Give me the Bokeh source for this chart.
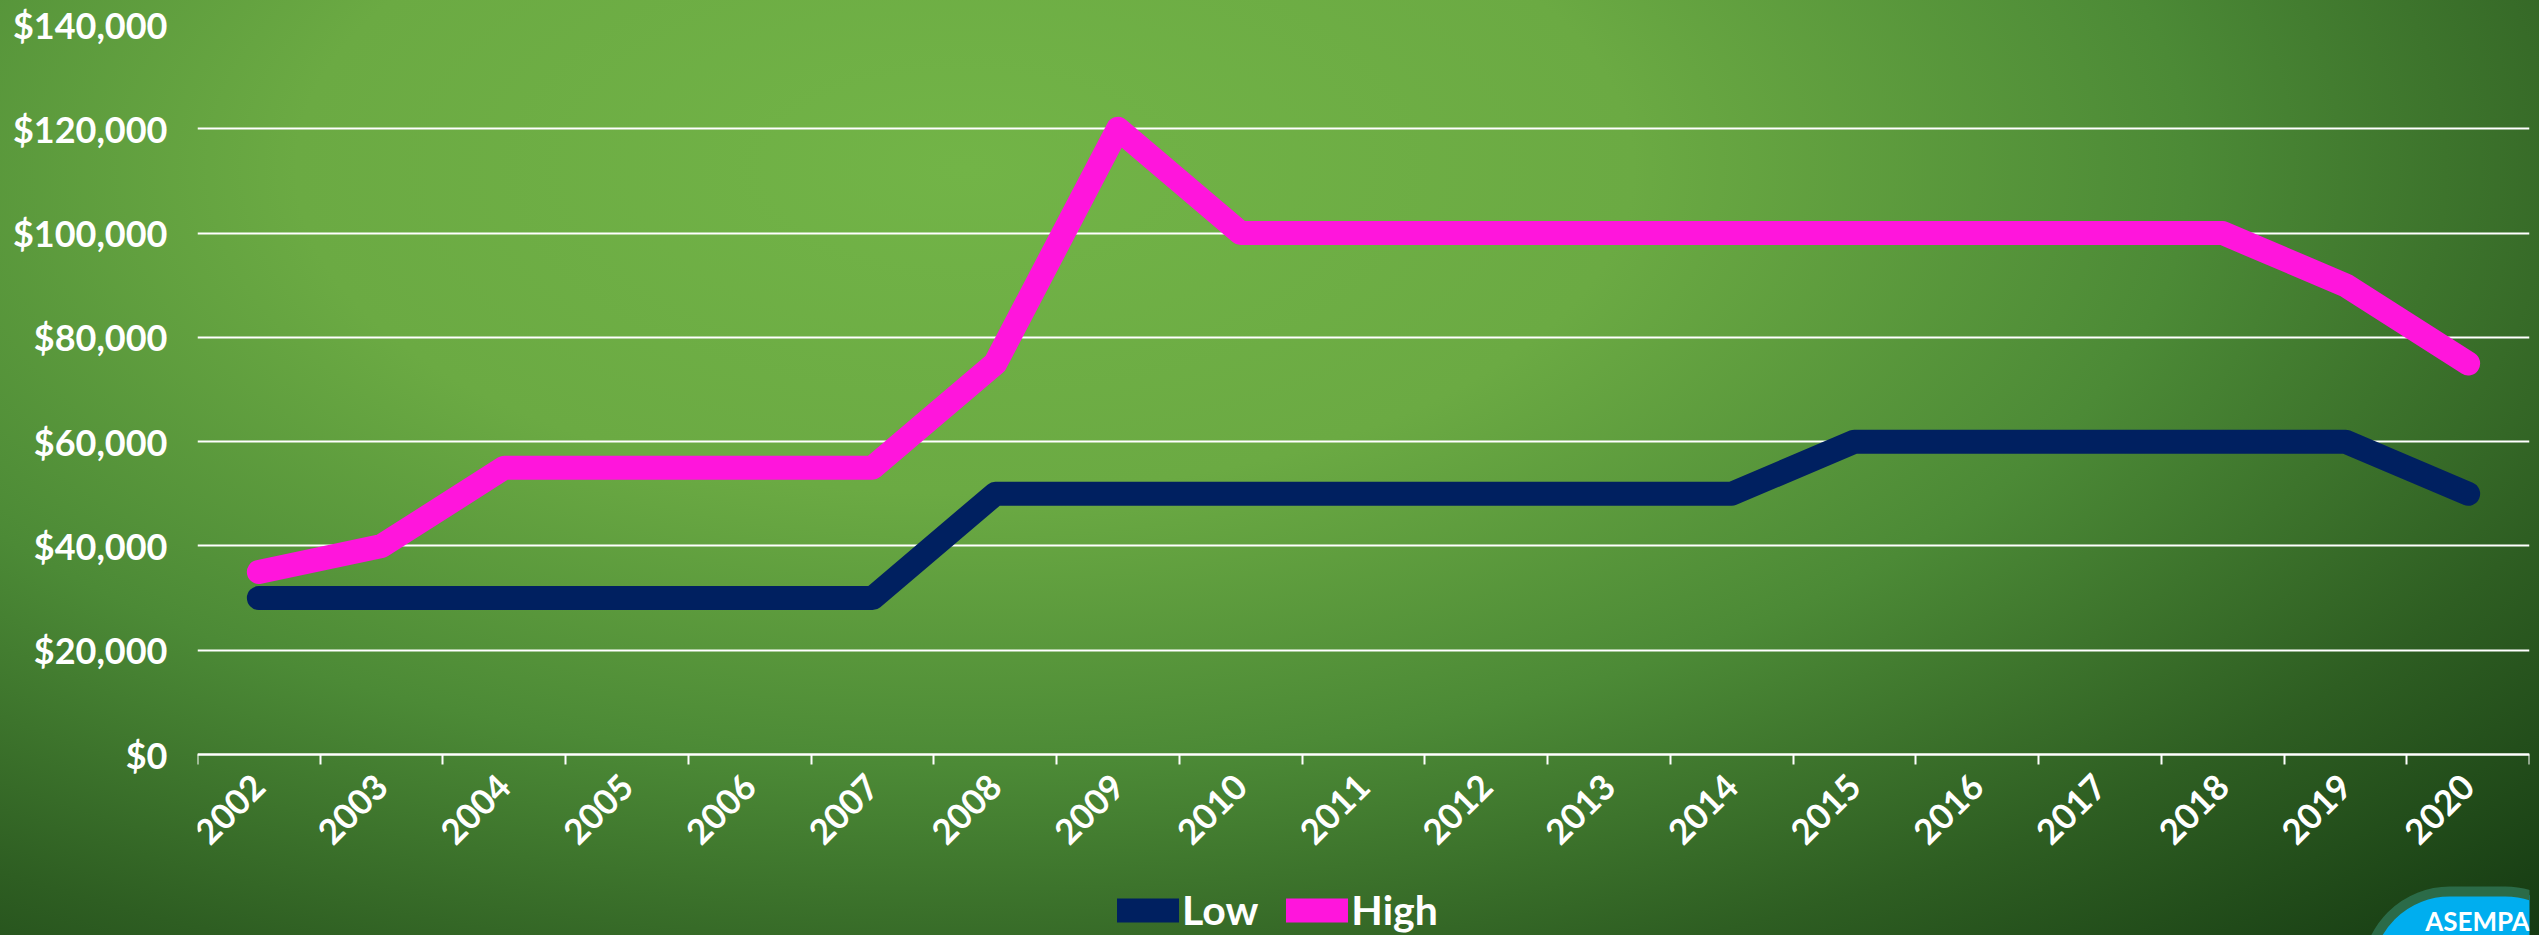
from bokeh.plotting import figure
from bokeh.models import (FixedTicker, NumeralTickFormatter, Legend, LegendItem,
                          Range1d, Label)
from bokeh.embed import file_html
from bokeh.resources import INLINE
from math import pi

years = [2002, 2003, 2004, 2005, 2006, 2007, 2008, 2009, 2010, 2011,
         2012, 2013, 2014, 2015, 2016, 2017, 2018, 2019, 2020]
low = [30000, 30000, 30000, 30000, 30000, 30000, 50000, 50000, 50000, 50000,
       50000, 50000, 50000, 60000, 60000, 60000, 60000, 60000, 50000]
high = [35000, 40000, 55000, 55000, 55000, 55000, 75000, 120000, 100000, 100000,
        100000, 100000, 100000, 100000, 100000, 100000, 100000, 90000, 75000]
y_ticks = [0, 20000, 40000, 60000, 80000, 100000, 120000, 140000]
series_names = ["Low", "High"]
logo_text = "ASEMPA"

FONT = "Lato"
W, H = 2539, 935
TOP, ZERO_Y = 24, 754          # pixel rows of the top gridline and of $0
# extend the frame down to the bottom of the canvas so that the legend and
# the badge (drawn as annotations) stay inside the frame
y_min = -(H - ZERO_Y) * (y_ticks[-1] - y_ticks[0]) / (ZERO_Y - TOP)

p = figure(width=W, height=H, output_backend="svg", toolbar_location=None,
           x_range=Range1d(years[0] - 0.5, years[-1] + 0.5),
           y_range=Range1d(y_min, y_ticks[-1]),
           min_border_left=197, min_border_right=10, min_border_top=TOP,
           min_border_bottom=0)

p.styles = {"background": "radial-gradient(ellipse farthest-corner at 38% 18%, "
            "#72B447 0%, #6BAA43 30%, #4C8A36 55%, #2E5E22 78%, #153A12 100%)"}
p.background_fill_color = None
p.border_fill_color = None
p.outline_line_color = None

# lines
r_low = p.line(years, low, line_color="#002060", line_width=24,
               line_cap="round", line_join="round")
r_high = p.line(years, high, line_color="#FF15DC", line_width=24,
                line_cap="round", line_join="round")

# x axis, pinned at $0
xa = p.xaxis[0]
xa.fixed_location = 0
boundaries = [y - 0.5 for y in years] + [years[-1] + 0.5]
xa.ticker = FixedTicker(ticks=years, minor_ticks=boundaries)
xa.major_label_orientation = pi / 4
xa.major_tick_line_color = None
xa.major_tick_out = 0
xa.major_tick_in = 0
xa.minor_tick_line_color = "white"
xa.minor_tick_line_width = 2
xa.minor_tick_out = 10
xa.minor_tick_in = 0
xa.axis_line_color = "white"
xa.axis_line_width = 2
xa.major_label_text_color = "white"
xa.major_label_text_font = FONT
xa.major_label_text_font_style = "bold"
xa.major_label_text_font_size = "35px"
xa.major_label_standoff = 16

# y axis
ya = p.yaxis[0]
ya.ticker = FixedTicker(ticks=y_ticks)
ya.formatter = NumeralTickFormatter(format="$0,0")
ya.axis_line_color = None
ya.major_tick_line_color = None
ya.minor_tick_line_color = None
ya.major_tick_out = 0
ya.major_tick_in = 0
ya.major_label_standoff = 30
ya.major_label_text_color = "white"
ya.major_label_text_font = FONT
ya.major_label_text_font_style = "bold"
ya.major_label_text_font_size = "36px"

p.xgrid.grid_line_color = None
p.ygrid.grid_line_color = "white"
p.ygrid.grid_line_width = 2
p.ygrid.ticker = FixedTicker(ticks=y_ticks)

legend = Legend(items=[LegendItem(label=series_names[0], renderers=[r_low]),
                       LegendItem(label=series_names[1], renderers=[r_high])],
                orientation="horizontal", location=(920, 1),
                background_fill_alpha=0, border_line_color=None,
                padding=0, margin=0, spacing=28, label_standoff=3,
                glyph_width=62, glyph_height=40,
                label_text_font=FONT, label_text_font_style="bold",
                label_text_font_size="41px", label_text_color="white")
p.add_layout(legend, "center")

logo = Label(x=2280, y=44, x_units="screen", y_units="screen",
             text=logo_text, text_align="center", text_baseline="top",
             text_font=FONT, text_font_style="bold", text_font_size="26px",
             text_color="white", background_fill_color="#00AEEF",
             border_line_color="#2B6B48", border_line_width=10,
             padding=dict(left=58, right=58, top=13, bottom=120),
             border_radius=108)
p.add_layout(logo)

open("out.html", "w").write(file_html(p, INLINE))
